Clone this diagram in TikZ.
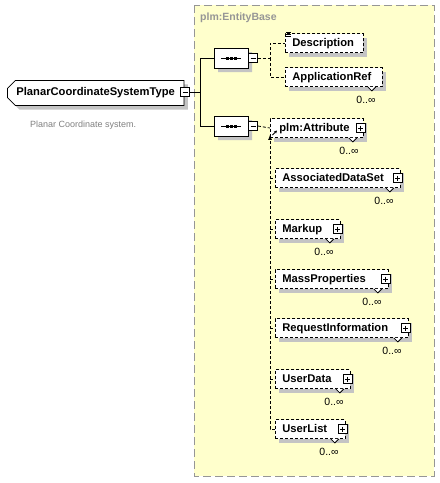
\documentclass[tikz,border=0pt]{standalone}
\usepackage{fontspec}
\setmainfont{Liberation Sans}
\usetikzlibrary{shapes.misc,shadows,arrows.meta}
\definecolor{bgyellow}{RGB}{255,255,204}
\definecolor{shadowgray}{RGB}{196,196,196}
\definecolor{txtgray}{RGB}{128,128,128}
\definecolor{boxgray}{RGB}{150,150,150}
\tikzset{
  shd/.style={drop shadow={shadow xshift=4pt,shadow yshift=-4pt,fill=shadowgray,opacity=1}},
  elem/.style={shd,draw,fill=white,dash pattern=on 3pt off 2pt,line width=0.8pt,
    rectangle,inner xsep=7pt,inner ysep=0pt,minimum height=19pt,anchor=west,
    text width=#1,align=left,text height=8pt,text depth=2pt,
    font=\bfseries\fontsize{11.2}{12}\selectfont},
  compo/.style={shd,draw,fill=white,line width=0.8pt,chamfered rectangle,
    chamfered rectangle xsep=0pt,chamfered rectangle ysep=0pt,
    chamfered rectangle angle=45,chamfered rectangle sep=5pt,
    minimum width=34pt,minimum height=20pt,inner sep=0pt},
  sqbox/.style={draw,fill=white,line width=0.8pt,minimum size=9pt,inner sep=0pt},
  minusbox/.style={sqbox,path picture={\draw[line width=0.8pt] ([xshift=2pt]path picture bounding box.west) -- ([xshift=-2pt]path picture bounding box.east);}},
  plusbox/.style={sqbox,path picture={\draw[line width=0.8pt] ([xshift=2pt]path picture bounding box.west) -- ([xshift=-2pt]path picture bounding box.east);
     \draw[line width=0.8pt] ([yshift=-2pt]path picture bounding box.north) -- ([yshift=2pt]path picture bounding box.south);}},
  mult/.style={font=\fontsize{10.5}{12}\selectfont,anchor=east,inner sep=0pt},
  conn/.style={line width=0.8pt},
  dconn/.style={line width=0.8pt,dash pattern=on 3pt off 2pt},
}
\newcommand{\seqsym}[1]{%
  \draw[line width=1pt] ([xshift=-10pt]#1.center) -- ([xshift=10pt]#1.center);
  \foreach \dx in {-4,0,4}{\fill ([xshift=\dx pt-1.5pt,yshift=-1.5pt]#1.center) rectangle ([xshift=\dx pt+1.5pt,yshift=1.5pt]#1.center);}}
\newcommand{\notch}[1]{%
  \draw[line width=0.8pt,fill=white] ([xshift=-15pt]#1.south east) -- ([xshift=-11pt,yshift=-4pt]#1.south east) -- ([xshift=-7pt]#1.south east);}
\begin{document}
\begin{tikzpicture}[x=1pt,y=-1pt]
\useasboundingbox (0,0) rectangle (440,483);
% background group
\draw[fill=bgyellow,draw=boxgray,line width=0.9pt,dash pattern=on 8pt off 4pt] (194,5) rectangle (434,476);
\node[anchor=west,text=boxgray,font=\bfseries\fontsize{10.5}{12}\selectfont,inner sep=0pt] (grp) at (200,18) {plm:EntityBase};

% main element
\node[shd,draw,fill=white,line width=0.8pt,chamfered rectangle,chamfered rectangle corners={north west,south west},
  chamfered rectangle xsep=0pt,chamfered rectangle ysep=0pt,chamfered rectangle sep=4pt,
  minimum width=173pt,minimum height=20pt,inner xsep=5pt,anchor=west,
  font=\bfseries\fontsize{11.2}{12}\selectfont] (main) at (7,93) {PlanarCoordinateSystemType};
\node[minusbox] (mm) at (185,92) {};
\node[anchor=west,text=txtgray,font=\fontsize{9}{11}\selectfont,inner sep=0pt] (doc) at (30,125) {Planar Coordinate system.};

% compositors
\node[compo] (s1) at (231,58) {};
\seqsym{s1}
\node[minusbox] (m1) at (253,58) {};
\node[compo] (s2) at (231,126) {};
\seqsym{s2}
\node[minusbox] (m2) at (253,126) {};

\draw[conn] (mm.east) -- ++(10,0) coordinate (jn) |- (s1.west);
\draw[conn] (jn) |- (s2.west);

% first sequence children
\node[elem=64pt] (desc) at (285,43) {Description};
\node[elem=83pt] (appref) at (285,77) {ApplicationRef};
\notch{appref}
\node[mult] (appm) at ([xshift=-7pt,yshift=-13pt]appref.south east) {0..∞};
\draw[line width=0.6pt] (286,32) -- (291,32) (286,34) -- (291,34) (286,36) -- (291,36);
\draw[dconn] (m1.east) -- ++(12,0) coordinate (j1) |- (desc.west);
\draw[dconn] (j1) |- (appref.west);

% second sequence: attribute + substitution group
\node[elem=79pt] (attr) at (270,128) {\hspace*{2pt}plm:Attribute};
\notch{attr}
\node[plusbox] (attrp) at ([xshift=-3pt]attr.east) {};
\node[mult] at ([xshift=-5pt,yshift=-13pt]attr.south east) {0..∞};
\draw[line width=0.8pt,-{Stealth[length=3pt,width=3pt]}] (272.5,135) -- (277,130.5);
\draw[dconn] (m2.east) -- (attr.west);

\node[elem=111pt] (ads) at (275,178) {AssociatedDataSet};
\node[elem=51pt] (mk) at (275,229) {Markup};
\node[elem=99pt] (mp) at (275,279) {MassProperties};
\node[elem=119pt] (ri) at (275,328) {RequestInformation};
\node[elem=61pt] (ud) at (275,379) {UserData};
\node[elem=56pt] (ul) at (275,429) {UserList};
\foreach \n in {ads,mk,mp,ri,ud,ul}{
  \notch{\n}
  \node[plusbox] at ([xshift=-3pt]\n.east) {};
  \node[mult] at ([xshift=-7pt,yshift=-13pt]\n.south east) {0..∞};
}
\draw[dconn,-{Latex[length=5pt,width=4pt]}] (ul.west) -- ++(-5,0) coordinate (jb) -- ([yshift=3pt]attr.south west);
\foreach \n in {ads,mk,mp,ri,ud}{\draw[dconn] (jb |- \n.west) -- (\n.west);}
\end{tikzpicture}
\end{document}
